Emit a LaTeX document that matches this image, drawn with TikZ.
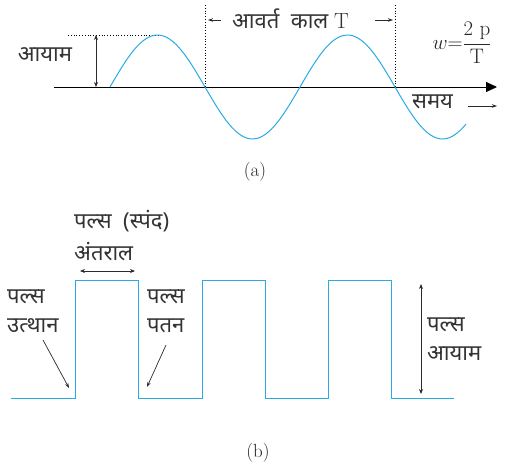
\documentclass[tikz,border=0pt]{standalone}
\usepackage{fontspec}
\newfontfamily\hindi[Script=Devanagari]{Noto Sans}
\usetikzlibrary{arrows.meta}
\definecolor{wavecyan}{HTML}{29ABE2}
\definecolor{markgray}{HTML}{2B2B2B}
\tikzset{
  wave/.style={draw=wavecyan,line width=1pt},
  axis/.style={draw=black,line width=0.9pt},
  guide/.style={draw=black,dotted,line width=0.8pt},
  span/.style={draw=markgray,line width=0.8pt,
    {Stealth[length=5pt,width=4pt]}-{Stealth[length=5pt,width=4pt]}},
  pointer/.style={draw=markgray,line width=0.7pt,-{Stealth[length=5pt,width=3.5pt]}},
  devtext/.style={font=\hindi\fontsize{22}{29}\selectfont,inner sep=0pt,
    text=black!80,align=left},
  subcap/.style={font=\fontsize{19}{22}\selectfont,inner sep=0pt,text=black!85}
}

\begin{document}
\begin{tikzpicture}[x=1pt,y=-1pt]
  \useasboundingbox (0,0) rectangle (509,465);
  % (a) sine wave
  \coordinate (axL) at (54,87);
  \coordinate (axR) at (497,87);
  \coordinate (ampTop) at (96,35);
  \coordinate (ampBot) at (96,87);
  \coordinate (peakL) at (68,35);
  \coordinate (peakR) at (163,35);
  \coordinate (perL) at (205,5);
  \coordinate (perLb) at (205,87);
  \coordinate (perR) at (395,5);
  \coordinate (perRb) at (395,87);
  \draw[guide] (peakL) -- (peakR);
  \draw[guide] (perL) -- (perLb);
  \draw[guide] (perR) -- (perRb);
  \draw[axis,-{Triangle[length=11pt,width=10pt]}] (axL) -- (axR);
  \draw[wave] plot[domain=110:466,samples=120,smooth]
    (\x,{87-52*sin((\x-110)/190*360)});
  \draw[span] (ampTop) -- (ampBot);
  \node[devtext] (amp) at (45,55) {आयाम};
  \node[devtext,anchor=west] (period) at (232,19) {आवर्त\ \ काल {\rmfamily T}};
  \coordinate (perTailL) at (221,20);
  \coordinate (perArrL) at (208,20);
  \coordinate (perTailR) at (375,20);
  \coordinate (perArrR) at (393,20);
  \draw[pointer] (perTailL) -- (perArrL);
  \draw[pointer] (perTailR) -- (perArrR);
  \node[text=black!85] (omega) at (462,43)
    {\fontsize{21}{25}\selectfont$w{=}\displaystyle\frac{2\ \mathrm{p}}{\mathrm{T}}$};
  \node[devtext,anchor=west] (time) at (412,102) {समय};
  \coordinate (timeTail) at (468,106);
  \coordinate (timeTip) at (497,106);
  \draw[pointer] (timeTail) -- (timeTip);
  \node[subcap] (capa) at (255,172) {(a)};
  % (b) pulse train
  \draw[wave] (11,398) foreach \p in {75,202,328} {
      -- (\p,398) -- (\p,281) -- (\p+63,281) -- (\p+63,398) } -- (454,398);
  \node[devtext,anchor=west] (pulse) at (74,221) {पल्स\ \ (स्पंद)};
  \node[devtext,anchor=west] (width) at (74,252) {अंतराल};
  \coordinate (wL) at (80,271);
  \coordinate (wR) at (135,271);
  \draw[span] (wL) -- (wR);
  \node[devtext,anchor=west] (rise) at (7,311) {पल्स\\उत्थान};
  \coordinate (riseTail) at (43,340);
  \coordinate (riseHead) at (69,388);
  \draw[pointer] (riseTail) -- (riseHead);
  \node[devtext,anchor=west] (fall) at (147,311) {पल्स\\पतन};
  \coordinate (fallTail) at (166,345);
  \coordinate (fallHead) at (147,387);
  \draw[pointer] (fallTail) -- (fallHead);
  \coordinate (pampTop) at (421,284);
  \coordinate (pampBot) at (421,394);
  \draw[span] (pampTop) -- (pampBot);
  \node[devtext,anchor=west] (pamp) at (427,339) {पल्स\\आयाम};
  \node[subcap] (capb) at (258,453) {(b)};
\end{tikzpicture}
\end{document}
